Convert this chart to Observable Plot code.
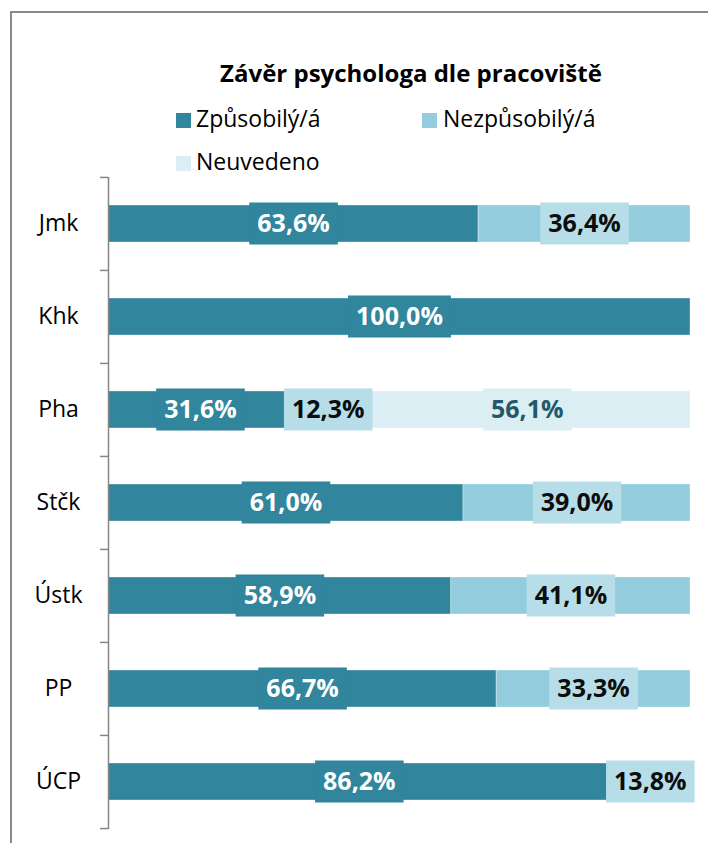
<!DOCTYPE html>
<html>
<head>
<meta charset="utf-8">
<script src="https://cdn.jsdelivr.net/npm/d3@7"></script>
<script src="https://cdn.jsdelivr.net/npm/@observablehq/plot@0.6"></script>
<style>
  body { margin: 0; background: #fff; font-family: "Open Sans", Lato, sans-serif; }
  #wrap { position: relative; width: 708px; height: 843px; overflow: hidden; background: #fff; }
  #frame { position: absolute; left: 10px; top: 11px; width: 760px; height: 900px; border: 2px solid #8a8a8a; box-sizing: border-box; }
  #title { position: absolute; left: 111px; width: 600px; top: 59px; text-align: center; font-weight: bold; font-size: 24px; line-height: 1.2; color: #000; white-space: nowrap; }
  .leg { position: absolute; font-size: 23px; line-height: 1.2; color: #000; white-space: nowrap; }
  .sw { position: absolute; width: 15px; height: 15px; }
  #chart { position: absolute; left: 0; top: 160px; }
</style>
</head>
<body>
<div id="wrap">
  <div id="frame"></div>
  <div id="title">Závěr psychologa dle pracoviště</div>
  <div id="legend"></div>
  <div id="chart"></div>
</div>
<script>
// ---- data ----
const categories = ["Jmk", "Khk", "Pha", "Stčk", "Ústk", "PP", "ÚCP"];
const series = ["Způsobilý/á", "Nezpůsobilý/á", "Neuvedeno"];
const zpusobily   = [63.6, 100.0, 31.6, 61.0, 58.9, 66.7, 86.2];
const nezpusobily = [36.4,   0.0, 12.3, 39.0, 41.1, 33.3, 13.8];
const neuvedeno   = [ 0.0,   0.0, 56.1,  0.0,  0.0,  0.0,  0.0];

// ---- styles ----
const barColors = ["#31859c", "#93cddd", "#daeef3"];
const boxColors = ["#31859c", "#b7dee8", "#daeef3"];
const textColors = ["#ffffff", "#0d0d0d", "#215968"];

const seriesValues = [zpusobily, nezpusobily, neuvedeno];
const rows = [];
categories.forEach((cat, i) => {
  let start = 0;
  seriesValues.forEach((arr, s) => {
    const v = arr[i];
    if (v > 0) rows.push({cat, s, series: series[s], value: v, start, end: start + v});
    start += v;
  });
});
const fmt = v => v.toFixed(1).replace(".", ",") + "%";

// ---- legend ----
const legendPos = [
  {sx: 176, sy: 113, tx: 196, ty: 105},
  {sx: 422, sy: 113, tx: 443, ty: 105},
  {sx: 176, sy: 156, tx: 196, ty: 148}
];
const legend = document.getElementById("legend");
series.forEach((name, s) => {
  const p = legendPos[s];
  const sw = document.createElement("div");
  sw.className = "sw";
  sw.style.left = p.sx + "px"; sw.style.top = p.sy + "px";
  sw.style.background = barColors[s];
  legend.append(sw);
  const t = document.createElement("div");
  t.className = "leg";
  t.style.left = p.tx + "px"; t.style.top = p.ty + "px";
  t.textContent = name;
  legend.append(t);
});

// ---- plot ----
const W = 708, H = 683;
const mTop = 17, mBottom = 14, mLeft = 108, mRight = 18;
const step = (H - mTop - mBottom) / categories.length;
const pxPerUnit = (W - mLeft - mRight) / 100;
const tickLen = 8 / pxPerUnit;

const labelMarks = [0, 1, 2].map(s =>
  Plot.text(rows.filter(d => d.s === s), {
    y: "cat",
    x: d => (d.start + d.end) / 2,
    text: d => fmt(d.value),
    fill: textColors[s],
    fontSize: 25,
    fontWeight: "bold",
    ariaDescription: "lbl-" + s
  })
);

const plot = Plot.plot({
  width: W,
  height: H,
  marginTop: mTop,
  marginBottom: mBottom,
  marginLeft: mLeft,
  marginRight: mRight,
  style: {fontFamily: "'Open Sans', Lato, sans-serif", background: "transparent"},
  x: {domain: [0, 100], axis: null},
  y: {domain: categories, paddingInner: 0.6, paddingOuter: 0.3, axis: null},
  color: {domain: series, range: barColors},
  marks: [
    Plot.barX(rows, {y: "cat", x1: "start", x2: "end", fill: "series", stroke: "#ffffff", strokeOpacity: 0.35, strokeWidth: 1, inset: 0}),
    ...labelMarks,
    Plot.ruleX([0], {stroke: "#868686", strokeWidth: 1.5}),
    Plot.ruleY(categories, {y: d => d, x1: -tickLen, x2: 0, dy: -step / 2, stroke: "#868686", strokeWidth: 1.5}),
    Plot.ruleY(categories.slice(-1), {y: d => d, x1: -tickLen, x2: 0, dy: step / 2, stroke: "#868686", strokeWidth: 1.5}),
    Plot.text(categories, {y: d => d, frameAnchor: "left", dx: -50, textAnchor: "middle", fontSize: 23, fill: "#000"})
  ]
});
document.getElementById("chart").append(plot);

// ---- label background boxes (sized from rendered text) ----
const yScale = plot.scale("y");
const bw = yScale.bandwidth;
const svgRect = plot.getBoundingClientRect();
const boxG = document.createElementNS("http://www.w3.org/2000/svg", "g");
let firstLbl = null;
[0, 1, 2].forEach(s => {
  const g = plot.querySelector(`g[aria-description="lbl-${s}"]`);
  if (!g) return;
  if (!firstLbl) firstLbl = g;
  const sub = rows.filter(d => d.s === s);
  g.querySelectorAll("text").forEach((t, i) => {
    const d = sub[i];
    const tb = t.getBoundingClientRect();
    const pad = 8;
    const h = bw + 5;
    const cy = yScale.apply(d.cat) + bw / 2;
    const r = document.createElementNS("http://www.w3.org/2000/svg", "rect");
    r.setAttribute("x", tb.left - svgRect.left - pad);
    r.setAttribute("width", tb.width + 2 * pad);
    r.setAttribute("y", cy - h / 2);
    r.setAttribute("height", h);
    r.setAttribute("fill", boxColors[s]);
    boxG.append(r);
  });
});
if (firstLbl) plot.insertBefore(boxG, firstLbl);
</script>
</body>
</html>
